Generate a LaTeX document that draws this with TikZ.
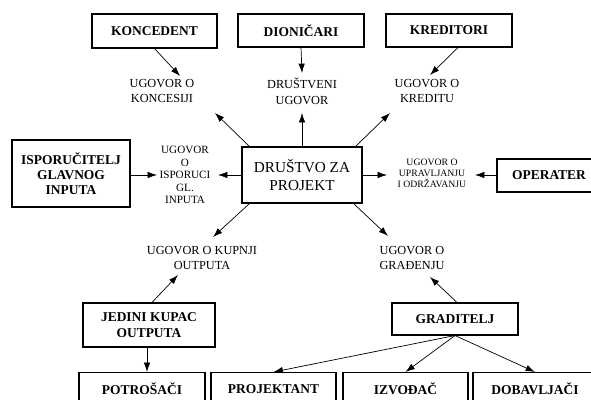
\documentclass[tikz,border=0pt]{standalone}
\usepackage{fontspec}
\setmainfont{Liberation Serif}
\usetikzlibrary{%
    calc,arrows.meta%
}

\begin{document}
\begin{tikzpicture}[x=0.03cm,y=-0.03cm,
  box/.style={draw,line width=0.9pt,inner sep=0pt,align=center,font=\fontsize{11.5}{13}\selectfont\bfseries},
  ugovor/.style={align=center,inner sep=0pt,font=\fontsize{10.5}{13.5}\selectfont},
  >={Latex[length=8pt,width=5.5pt]},every path/.style={line width=0.6pt}]
\useasboundingbox (0,0) rectangle (591,400);

% boxes
\node[box,minimum width=125*0.03cm,minimum height=34*0.03cm] (konc) at (154.5,31) {KONCEDENT};
\node[box,minimum width=126*0.03cm,minimum height=33*0.03cm] (dion) at (301,30.5) {DIONIČARI};
\node[box,minimum width=126*0.03cm,minimum height=33*0.03cm] (kred) at (449,30.5) {KREDITORI};
\node[box,minimum width=118*0.03cm,minimum height=67*0.03cm] (isp) at (71,173.5) {ISPORUČITELJ\\GLAVNOG\\INPUTA};
\node[box,minimum width=120*0.03cm,minimum height=56*0.03cm,font=\fontsize{13}{16}\selectfont] (dru) at (302,175) {DRUŠTVO ZA\\PROJEKT};
\node[box,minimum width=104*0.03cm,minimum height=33*0.03cm] (oper) at (549,175.5) {OPERATER};
\node[box,minimum width=132*0.03cm,minimum height=44*0.03cm] (jed) at (149,325) {JEDINI KUPAC\\OUTPUTA};
\node[box,minimum width=126*0.03cm,minimum height=32*0.03cm] (grad) at (455,319) {GRADITELJ};
\node[box,minimum width=126*0.03cm,minimum height=33*0.03cm] (potr) at (142,389) {POTROŠAČI};
\node[box,minimum width=125*0.03cm,minimum height=33*0.03cm] (proj) at (273.5,389) {PROJEKTANT};
\node[box,minimum width=125*0.03cm,minimum height=33*0.03cm] (izv) at (405.5,389) {IZVOĐAČ};
\node[box,minimum width=124*0.03cm,minimum height=33*0.03cm] (dob) at (535,389) {DOBAVLJAČI};

% ugovori
\node[ugovor] (lkon) at (162,91) {UGOVOR O\\KONCESIJI};
\node[ugovor] (ldru) at (302,91) {DRUŠTVENI\\UGOVOR};
\node[ugovor] (lkre) at (427,91) {UGOVOR O\\KREDITU};
\node[ugovor,font=\fontsize{9.5}{10.6}\selectfont] (lisp) at (185,175) {UGOVOR\\O\\ISPORUCI\\GL.\\INPUTA};
\node[ugovor,font=\fontsize{8.3}{9.4}\selectfont] (lupr) at (432,173) {UGOVOR O\\UPRAVLJANJU\\I ODRŽAVANJU};
\node[ugovor] (lkup) at (202,258) {UGOVOR O KUPNJI\\OUTPUTA};
\node[ugovor] (lgra) at (412,258) {UGOVOR O\\GRAĐENJU};

% strelice
\draw[->] (konc.south) -- ($(lkon)+(18,-15)$);
\draw[->] ($(dru.north west)+(8,0)$) -- ($(lkon)+(53,22)$);
\draw[->] (dion.south) -- ($(ldru)+(0,-18)$);
\draw[->] (dru.north) -- ($(ldru)+(0,22)$);
\draw[->] ($(kred.south)+(9,0)$) -- ($(lkre)+(3,-16)$);
\draw[->] ($(dru.north east)+(-7,0)$) -- ($(lkre)+(-37,22)$);
\draw[->] (isp.east|-lisp) -- ($(lisp)+(-28,0)$);
\draw[->] (dru.west|-lisp) -- ($(lisp)+(33,0)$);
\draw[->] (dru.east) -- ($(lupr)+(-45,2)$);
\draw[->] (oper.west|-dru) -- ($(lupr)+(43,2)$);
\draw[->] ($(dru.south west)+(8,0)$) -- ($(lkup)+(11,-21)$);
\draw[->] ($(jed.north)+(3,0)$) -- ($(lkup)+(-24,17)$);
\draw[->] ($(dru.south east)+(-9,0)$) -- ($(lgra)+(-24,-22)$);
\draw[->] ($(grad.north)+(2,0)$) -- ($(lgra)+(18,19)$);
\draw[->] ($(jed.south)+(-2,0)$) coordinate (j) -- (j|-potr.north);
\draw[->] (grad.south) -- (proj.north);
\draw[->] (grad.south) -- (izv.north);
\draw[->] (grad.south) -- (dob.north);

\end{tikzpicture}
\end{document}
